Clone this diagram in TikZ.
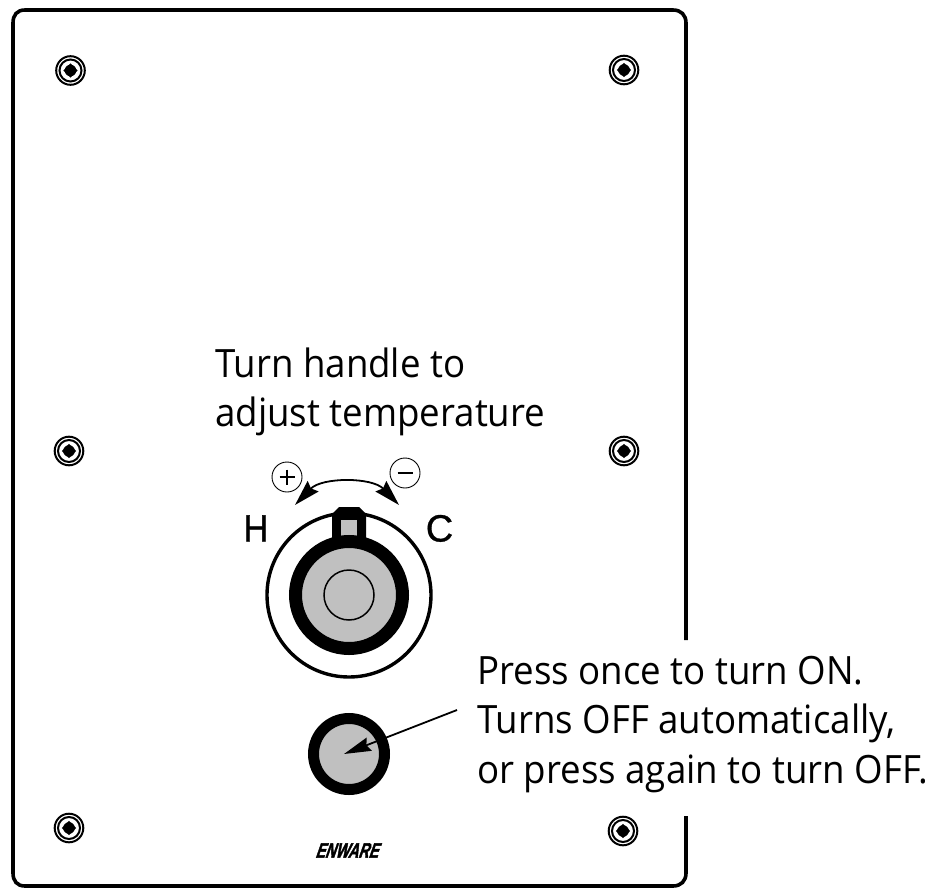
\documentclass[tikz,border=0pt]{standalone}
\usepackage{fontspec}
\setmainfont{Open Sans}[FakeStretch=0.94]
\newfontfamily\letterfont{Liberation Sans}[FakeBold=0.8]
\newfontfamily\logofont{Liberation Sans Bold}[FakeBold=2.5]
\usetikzlibrary{arrows.meta}
\definecolor{knobgray}{RGB}{192,192,192}
\tikzset{
  panel/.style={line width=3.6pt},
  screwring/.style={circle,draw=black,line width=2pt,fill=white,inner sep=0pt,minimum size=28.6pt},
  label/.style={anchor=base west,inner sep=0pt,font=\fontsize{39}{39}\selectfont},
  signring/.style={circle,draw=black,line width=0.9pt,fill=white,inner sep=0pt,minimum size=30pt},
  sweep/.style={{Stealth[length=26pt,width=15pt,inset=3pt]}-{Stealth[length=26pt,width=15pt,inset=3pt]},line width=1.8pt},
  pointer/.style={-{Stealth[length=27pt,width=14pt,inset=3pt]},line width=1.8pt},
  letter/.style={inner sep=0pt,anchor=base,font=\letterfont\fontsize{38}{38}\selectfont},
}
\newcommand{\screw}[3]{%
  \node[screwring] (#1) at (#2,#3) {};
  \draw[black,line width=2pt] (#2,#3) circle (11);
  \fill[black] (#2,#3) circle (5.8);
  \fill[black] (#2-7.2,#3) -- (#2,#3-7.2) -- (#2+7.2,#3) -- (#2,#3+7.2) -- cycle;
}
\begin{document}
\begin{tikzpicture}[x=1pt,y=-1pt]
\useasboundingbox (0,0) rectangle (932,888);
\fill[white] (0,0) rectangle (932,888);
% panel outline
\coordinate (gapTop) at (686,640);
\coordinate (gapBot) at (686,816);
\draw[panel] (gapTop) -- (686,23)
  .. controls (686,15) and (681,10) .. (673,10) -- (25,10)
  .. controls (17,10) and (13,15) .. (13,23) -- (13,873)
  .. controls (13,881) and (17,886) .. (25,886) -- (673,886)
  .. controls (681,886) and (686,881) .. (686,873) -- (gapBot);
% screws
\screw{s1}{70.5}{70.5}
\screw{s2}{624}{70}
\screw{s3}{69}{451}
\screw{s4}{624}{451}
\screw{s5}{69}{828}
\screw{s6}{623}{831}
% knob
\node[circle,draw=black,line width=3.4pt,fill=white,inner sep=0pt,minimum size=164pt] (dial) at (349,595) {};
\path[fill=black] (332,540) -- (332,514) -- (339,507) -- (359,507) -- (366,514) -- (366,540) -- cycle;
\fill[knobgray] (341,520) rectangle (357,538);
\node[circle,draw=black,line width=13pt,fill=knobgray,inner sep=0pt,minimum size=107pt] (knob) at (349,595) {};
\node[circle,draw=black,line width=1.5pt,inner sep=0pt,minimum size=50pt] (hub) at (349,595) {};
% sweep arrow
\coordinate (sweepL) at (295,505);
\coordinate (sweepR) at (399,505);
\draw[sweep] (sweepL) .. controls (322,477) and (372,477) .. (sweepR);
\node[signring] (plus) at (287,477) {};
\draw[line width=1.2pt] (279.5,477) -- (294.5,477) (287,469.5) -- (287,484.5);
\node[signring] (minus) at (405,473) {};
\draw[line width=1.2pt] (397.5,473) -- (412.5,473);
\node[letter,xscale=0.9] (H) at (256,541.5) {H};
\node[letter] (C) at (439.5,541.5) {C};
% button
\node[circle,draw=black,line width=11pt,fill=knobgray,inner sep=0pt,minimum size=71pt] (button) at (349,754) {};
\coordinate (btnTail) at (457,710);
\coordinate (btnTip) at (344,754);
\draw[pointer] (btnTail) -- (btnTip);
% logo
\node[inner sep=0pt,font=\logofont\fontsize{21}{21}\selectfont,xslant=0.35,xscale=0.68] (logo) at (349,850.5) {ENWARE};
% labels
\node[label] (t1) at (215,377) {Turn handle to};
\node[label] (t2) at (215,426.5) {adjust temperature};
\node[label] (t3) at (477,684) {Press once to turn ON.};
\node[label] (t4) at (477,733.5) {Turns OFF automatically,};
\node[label] (t5) at (477,783) {or press again to turn OFF.};
\end{tikzpicture}
\end{document}
